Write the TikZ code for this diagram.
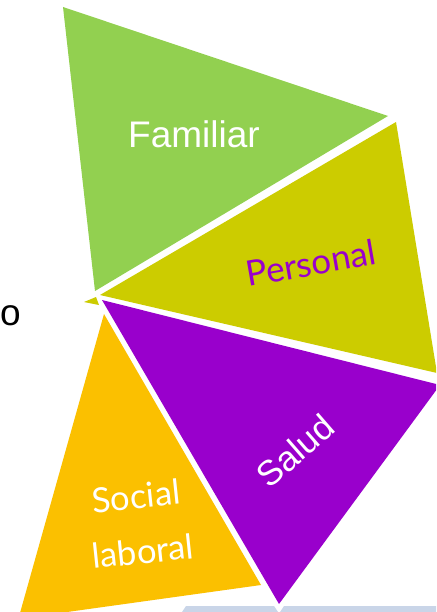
\documentclass[tikz,border=0pt]{standalone}
\usepackage{fontspec}
\setmainfont{Liberation Sans}
\newfontfamily\gill{Lato}
\definecolor{cgreen}{HTML}{92D050}
\definecolor{cyellow}{HTML}{CCCC00}
\definecolor{cpurple}{HTML}{9900CC}
\definecolor{corange}{HTML}{FBC000}
\definecolor{cblue}{HTML}{C9D5E8}
\tikzset{
  shard/.style={fill=#1,draw=none},
  lbl/.style={inner sep=0pt,text=#1},
}
\begin{document}
\begin{tikzpicture}[x=1pt,y=-1pt]
\useasboundingbox (0,0) rectangle (436,612);
\clip (0,0) rectangle (436,612);
\fill[white] (0,0) rectangle (436,612);
\fill[shard=cblue] (186,606) -- (274,606) -- (278,612) -- (182,612) -- cycle;
\fill[shard=cblue] (284,606) -- (436,606) -- (436,612) -- (280,612) -- cycle;
\fill[shard=cgreen] (63,7) -- (388,116) -- (95,291) -- cycle;
\fill[shard=cyellow] (396,122) -- (437,373) -- (100,295) -- cycle;
\fill[shard=cyellow] (84,302) -- (96,297) -- (99,305) -- cycle;
\fill[shard=cpurple] (102,300) -- (440,385) -- (279,604) -- cycle;
\fill[shard=corange] (104,314) -- (261,585) -- (60,613) -- (20,613) -- cycle;
\node[lbl=white,font=\fontsize{37}{37}\selectfont] (familiar) at (194,134) {Familiar};
\node[lbl=cpurple,rotate=10,font=\gill\fontsize{35}{35}\selectfont] (personal) at (311,263) {Personal};
\node[lbl=white,rotate=41,font=\fontsize{35}{35}\selectfont] (salud) at (295,451) {Salud};
\node[lbl=white,rotate=6,font=\gill\fontsize{34.5}{34.5}\selectfont] (social) at (136,496) {Social};
\node[lbl=white,rotate=6,font=\gill\fontsize{34.5}{34.5}\selectfont] (laboral) at (143,551) {laboral};
\node[lbl=black,font=\fontsize{37}{37}\selectfont] (o) at (10.3,316) {o};
\end{tikzpicture}
\end{document}
